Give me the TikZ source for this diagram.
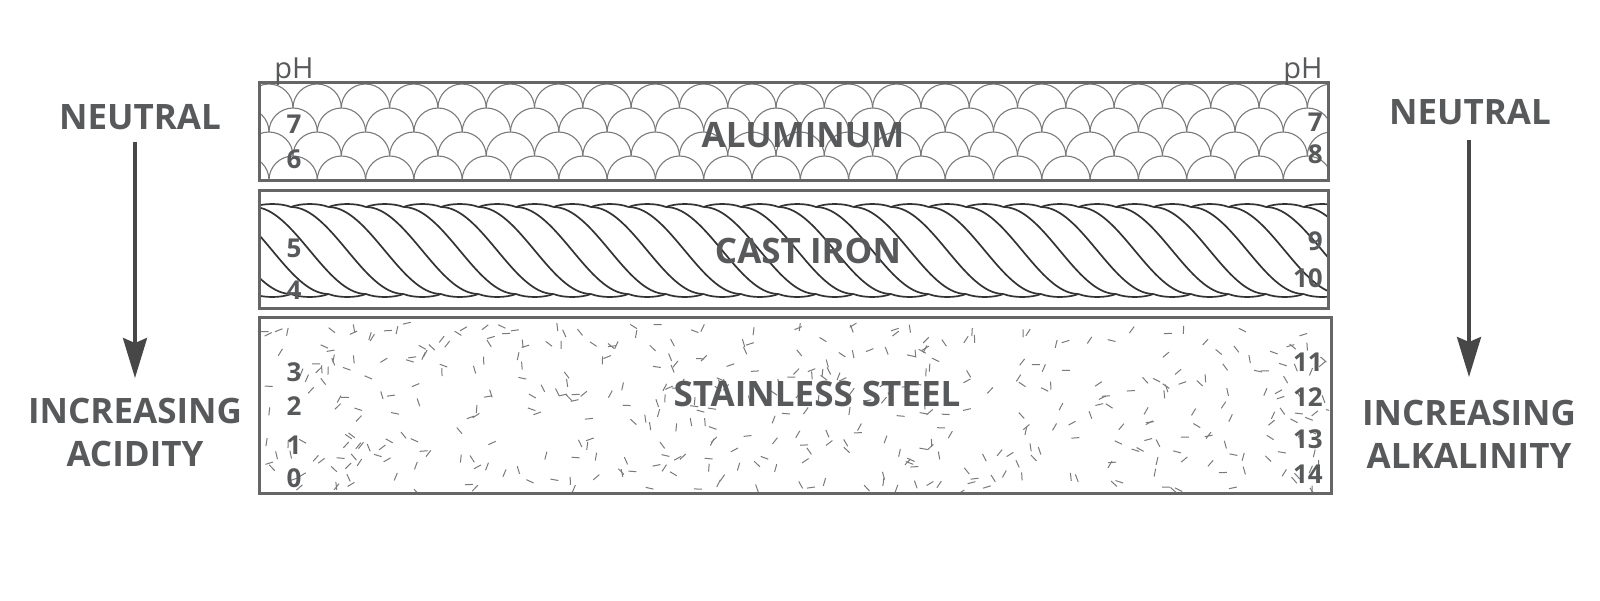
\documentclass[tikz,border=0pt]{standalone}
\usepackage{fontspec}
\setmainfont{Open Sans}
\usetikzlibrary{arrows.meta}
\definecolor{inkgray}{HTML}{58595B}
\definecolor{rimgray}{HTML}{666666}
\definecolor{hatchgray}{HTML}{7A7A7A}
\tikzset{
  panel/.style={draw=rimgray, line width=3pt},
  scaleline/.style={draw=hatchgray, line width=1.1pt},
  ropeline/.style={draw=black!80, line width=1.7pt},
  speck/.style={draw=hatchgray, line width=1pt},
  metal/.style={font=\bfseries\fontsize{35}{35}\selectfont, text=inkgray, inner sep=0pt},
  tag/.style={font=\bfseries\fontsize{35}{43}\selectfont, text=inkgray, inner sep=0pt, align=center},
  phnum/.style={font=\bfseries\fontsize{26}{26}\selectfont, text=inkgray, inner sep=0pt},
  phhead/.style={font=\fontsize{29}{29}\selectfont, text=inkgray, inner sep=0pt, anchor=base},
  trend/.style={draw=black!72, line width=3.5pt, -{Stealth[length=40pt,width=24pt,inset=5pt]}}
}
\begin{document}
\begin{tikzpicture}[x=1pt,y=-1pt]
\useasboundingbox (0,0) rectangle (1600,600);

\begin{scope}
  \clip (259,82) rectangle (1328,180);
  \foreach \r in {0,...,3}{
    \pgfmathsetmacro\sy{108+24*\r}
    \pgfmathsetmacro\sx{mod(\r,2)==0 ? 196.4 : 220.7}
    \foreach \c in {0,...,23}
      \draw[scaleline] (\sx+48.3*\c,\sy) arc[start angle=180,end angle=360,x radius=24.15,y radius=24];
  }
\end{scope}

\begin{scope}
  \clip (259,190) rectangle (1328,308);
  \foreach \c in {-4,...,28}{
    \pgfmathsetmacro\rx{291+37.5*\c}
    \draw[ropeline] (\rx,207) .. controls (\rx+40,207) and (\rx+72.5,294) .. (\rx+112.5,294);
    \draw[ropeline] (\rx,207) .. controls (\rx+10,203) and (\rx+27.5,203) .. (\rx+37.5,207);
    \draw[ropeline] (\rx,294) .. controls (\rx+10,298) and (\rx+27.5,298) .. (\rx+37.5,294);
  }
\end{scope}

\begin{scope}
  \clip (261,319) rectangle (1329,492);
  \pgfmathsetseed{42}
  \foreach \k in {1,...,460}{
    \pgfmathsetmacro\dx{262+1066*rnd}
    \pgfmathsetmacro\dy{322+168*rnd}
    \pgfmathsetmacro\da{180*rnd}
    \draw[speck] (\dx,\dy) -- ++(\da:8);
  }
\end{scope}

\draw[panel] (259,82) rectangle (1328,180);
\draw[panel] (259,190) rectangle (1328,308);
\draw[panel] (259,317) rectangle (1331,493);

\node[metal] (al) at (803,135) {ALUMINUM};
\node[metal] (ci) at (808,251) {CAST IRON};
\node[metal] (ss) at (817,394) {STAINLESS STEEL};

\node[phhead] (lph) at (294,78) {pH};
\node[phhead] (rph) at (1303,78) {pH};

\begin{scope}[every node/.style={phnum}]
  \node (l7)  at (294,124) {7};
  \node (l6)  at (294,159) {6};
  \node (l5)  at (294,248) {5};
  \node (l4)  at (294,290) {4};
  \node (l3)  at (294,372) {3};
  \node (l2)  at (294,406) {2};
  \node (l1)  at (294,445) {1};
  \node (l0)  at (294,478) {0};
\end{scope}

\begin{scope}[every node/.style={phnum, anchor=east}]
  \node (r7)  at (1323,122) {7};
  \node (r8)  at (1323,154) {8};
  \node (r9)  at (1323,241) {9};
  \node (r10) at (1323,278) {10};
  \node (r11) at (1323,362) {11};
  \node (r12) at (1323,397) {12};
  \node (r13) at (1323,439) {13};
  \node (r14) at (1323,474) {14};
\end{scope}

\node[metal] (nl) at (140,117) {NEUTRAL};
\node[tag, anchor=north] (il) at (135,398) {INCREASING\\ACIDITY};
\node[metal] (nr) at (1470,112) {NEUTRAL};
\node[tag, anchor=north] (ir) at (1469,400) {INCREASING\\ALKALINITY};

\draw[trend, shorten <=12pt, shorten >=20pt] (il.north |- nl.south) -- (il.north);
\draw[trend, shorten <=15pt, shorten >=23pt] (ir.north |- nr.south) -- (ir.north);

\end{tikzpicture}
\end{document}
